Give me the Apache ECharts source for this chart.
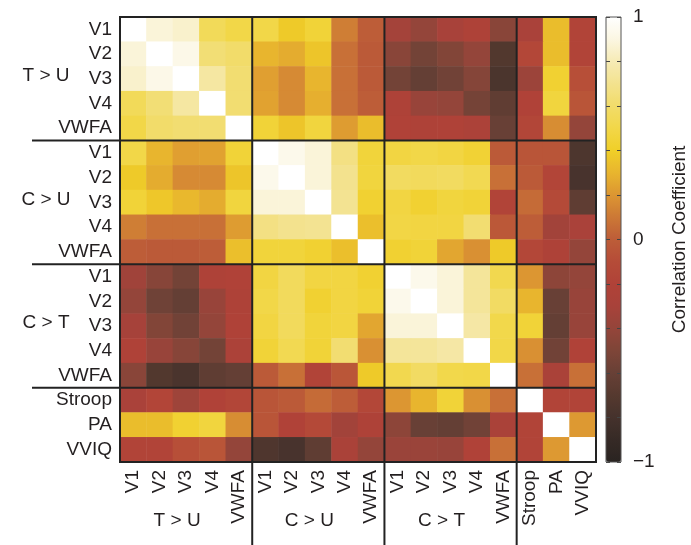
<!DOCTYPE html>
<html><head><meta charset="utf-8">
<script src="https://cdn.jsdelivr.net/npm/echarts@6/dist/echarts.min.js"></script>
<style>html,body{margin:0;padding:0;background:#fff}#c{width:691px;height:545px}</style>
</head><body><div id="c"></div>
<script>
// ---- data ----
const labels = ['V1','V2','V3','V4','VWFA','V1','V2','V3','V4','VWFA','V1','V2','V3','V4','VWFA','Stroop','PA','VVIQ'];
const groupNames = ['T > U','C > U','C > T'];
const groupStart = [0, 5, 10];
const groupSize = 5;
const colorbarLabels = [-1, 0, 1];

const rTU_V1   = [1, 0.88, 0.85, 0.55, 0.5, 0.5, 0.38, 0.45, 0.12, 0.0, -0.32, -0.4, -0.3, -0.22, -0.45, -0.28, 0.33, -0.18];
const rTU_V2   = [0.88, 1, 0.92, 0.63, 0.6, 0.3, 0.27, 0.36, 0.07, -0.02, -0.45, -0.55, -0.48, -0.4, -0.72, -0.15, 0.33, -0.18];
const rTU_V3   = [0.85, 0.92, 1, 0.75, 0.62, 0.23, 0.16, 0.3, 0.07, -0.02, -0.55, -0.62, -0.56, -0.47, -0.76, -0.36, 0.43, -0.08];
const rTU_V4   = [0.55, 0.63, 0.75, 1, 0.62, 0.24, 0.16, 0.28, 0.07, 0.0, -0.22, -0.38, -0.4, -0.54, -0.64, -0.2, 0.47, -0.05];
const rTU_VWFA = [0.5, 0.6, 0.62, 0.62, 1, 0.45, 0.36, 0.47, 0.22, 0.33, -0.2, -0.22, -0.21, -0.25, -0.6, -0.16, 0.17, -0.4];
const rCU_V1   = [0.5, 0.3, 0.23, 0.24, 0.45, 1, 0.93, 0.88, 0.67, 0.46, 0.48, 0.5, 0.48, 0.44, -0.02, -0.05, -0.05, -0.75];
const rCU_V2   = [0.38, 0.27, 0.16, 0.16, 0.36, 0.93, 1, 0.88, 0.7, 0.47, 0.57, 0.56, 0.57, 0.53, 0.07, -0.02, -0.17, -0.78];
const rCU_V3   = [0.45, 0.37, 0.31, 0.27, 0.47, 0.88, 0.88, 1, 0.71, 0.43, 0.48, 0.43, 0.47, 0.45, -0.18, 0.05, -0.12, -0.65];
const rCU_V4   = [0.12, 0.07, 0.07, 0.07, 0.22, 0.67, 0.7, 0.71, 1, 0.34, 0.49, 0.48, 0.48, 0.62, -0.03, 0.0, -0.33, -0.28];
const rCU_VWFA = [0.0, -0.02, -0.02, 0.0, 0.34, 0.46, 0.46, 0.43, 0.34, 1, 0.43, 0.45, 0.25, 0.18, 0.38, -0.15, -0.22, -0.4];
const rCT_V1   = [-0.34, -0.46, -0.55, -0.22, -0.2, 0.48, 0.56, 0.48, 0.48, 0.43, 1, 0.93, 0.88, 0.73, 0.52, 0.2, -0.43, -0.4];
const rCT_V2   = [-0.4, -0.57, -0.62, -0.38, -0.22, 0.5, 0.56, 0.43, 0.48, 0.45, 0.93, 1, 0.88, 0.73, 0.58, 0.3, -0.6, -0.38];
const rCT_V3   = [-0.31, -0.48, -0.56, -0.4, -0.21, 0.48, 0.56, 0.46, 0.48, 0.25, 0.88, 0.88, 1, 0.76, 0.51, 0.45, -0.62, -0.38];
const rCT_V4   = [-0.21, -0.38, -0.46, -0.55, -0.25, 0.45, 0.53, 0.45, 0.62, 0.18, 0.73, 0.73, 0.76, 1, 0.5, 0.18, -0.56, -0.2];
const rCT_VWFA = [-0.45, -0.72, -0.77, -0.65, -0.62, -0.02, 0.07, -0.18, -0.04, 0.38, 0.52, 0.58, 0.51, 0.5, 1, 0.07, -0.27, 0.07];
const rStroop  = [-0.28, -0.17, -0.35, -0.2, -0.16, -0.05, -0.02, 0.05, 0.0, -0.15, 0.2, 0.3, 0.45, 0.18, 0.07, 1, -0.18, -0.18];
const rPA      = [0.33, 0.33, 0.43, 0.47, 0.17, -0.05, -0.2, -0.13, -0.33, -0.22, -0.43, -0.6, -0.62, -0.56, -0.27, -0.18, 1, 0.21];
const rVVIQ    = [-0.18, -0.18, -0.08, -0.05, -0.4, -0.74, -0.78, -0.65, -0.27, -0.4, -0.37, -0.37, -0.38, -0.2, 0.07, -0.18, 0.21, 1];

const rows = [rTU_V1, rTU_V2, rTU_V3, rTU_V4, rTU_VWFA, rCU_V1, rCU_V2, rCU_V3, rCU_V4, rCU_VWFA,
              rCT_V1, rCT_V2, rCT_V3, rCT_V4, rCT_VWFA, rStroop, rPA, rVVIQ];

// colormap stops from -1 to 1 in steps of 0.1
const cmap = ['#2a2421','#362a26','#45322c','#55392f','#684036','#7e4538','#94453a','#a8423a','#b04238','#b54c38',
              '#bd5d38','#cc7836','#dc9632','#e8b52e','#f0cf28','#f2d748','#f2dc6a','#f3e28e','#f6ebb5','#fbf6e2','#ffffff'];

// ---- chart ----
const FONT = '"Liberation Sans", Arial, Helvetica, sans-serif';
const TXT = '#231f20';
const FS = 19;
const data = [];
rows.forEach((r, i) => r.forEach((v, j) => data.push([j, i, v])));

const chart = echarts.init(document.getElementById('c'), null, {renderer: 'canvas'});
const tickStyle = {show: true, inside: true, length: 4, alignWithLabel: true, lineStyle: {color: '#444', width: 1}};
chart.setOption({
  animation: false,
  textStyle: {fontFamily: FONT, color: TXT},
  grid: [
    {left: 120, top: 17, width: 476, height: 445, show: true, borderColor: '#222', borderWidth: 2, z: 5, backgroundColor: 'transparent'},
    {left: 606, top: 17, width: 15, height: 445, show: false}
  ],
  xAxis: [
    {type: 'category', gridIndex: 0, position: 'bottom', data: labels,
     axisLine: {show: false}, axisTick: tickStyle, splitLine: {show: false},
     axisLabel: {rotate: 90, fontSize: FS, color: TXT, fontFamily: FONT, margin: 8, interval: 0}},
    {type: 'category', gridIndex: 0, position: 'top', data: labels,
     axisLine: {show: false}, axisTick: tickStyle, axisLabel: {show: false}},
    {type: 'category', gridIndex: 1, data: ['c'], show: false}
  ],
  yAxis: [
    {type: 'category', gridIndex: 0, position: 'left', inverse: true, data: labels,
     axisLine: {show: false}, axisTick: tickStyle, splitLine: {show: false},
     axisLabel: {fontSize: FS, color: TXT, fontFamily: FONT, margin: 8, interval: 0}},
    {type: 'category', gridIndex: 0, position: 'right', inverse: true, data: labels,
     axisLine: {show: false}, axisTick: tickStyle, axisLabel: {show: false}},
    {type: 'value', gridIndex: 1, position: 'right', min: -1, max: 1, interval: 0.2,
     axisLine: {show: false}, splitLine: {show: false},
     axisTick: {show: true, inside: true, length: 4, lineStyle: {color: '#444'}},
     axisLabel: {fontSize: FS, color: TXT, fontFamily: FONT, margin: 12,
       formatter: v => { const r = Math.round(v * 10) / 10; return colorbarLabels.includes(r) ? (r < 0 ? '\u2212' + Math.abs(r) : String(r)) : ''; }},
     name: 'Correlation Coefficient', nameLocation: 'middle', nameRotate: 90, nameGap: 49,
     nameTextStyle: {fontSize: FS, color: TXT, fontFamily: FONT}, z: 10},
    {type: 'value', gridIndex: 1, position: 'left', min: -1, max: 1, interval: 0.2,
     axisLine: {show: false}, splitLine: {show: false}, axisLabel: {show: false},
     axisTick: {show: true, inside: true, length: 4, lineStyle: {color: '#444'}}, z: 10}
  ],
  visualMap: {
    type: 'continuous', min: -1, max: 1, seriesIndex: 0, calculable: false, show: true,
    left: 606, top: 17, itemWidth: 15, itemHeight: 445, padding: 0, text: null,
    inRange: {color: cmap}, hoverLink: false, borderColor: '#555', borderWidth: 0
  },
  series: [{
    type: 'heatmap', xAxisIndex: 0, yAxisIndex: 0, data: data,
    itemStyle: {borderWidth: 0}, emphasis: {disabled: true}, progressive: 0
  }]
});

// separators and group labels placed via the chart's own coordinate conversion
const px = i => chart.convertToPixel({xAxisIndex: 0}, i);
const py = i => chart.convertToPixel({yAxisIndex: 0}, i);
const gridRect = chart.getModel().getComponent('grid', 0).coordinateSystem.getRect();
const cbRect = chart.getModel().getComponent('grid', 1).coordinateSystem.getRect();
const graphics = [];
groupStart.slice(1).concat([15]).forEach(b => {
  const y = (py(b - 1) + py(b)) / 2;
  const x = (px(b - 1) + px(b)) / 2;
  graphics.push({type: 'line', shape: {x1: 32, y1: y, x2: gridRect.x + gridRect.width, y2: y}, style: {stroke: '#222', lineWidth: 2}, z: 20});
  graphics.push({type: 'line', shape: {x1: x, y1: gridRect.y, x2: x, y2: 545}, style: {stroke: '#222', lineWidth: 2}, z: 20});
});
groupNames.forEach((g, k) => {
  const s = groupStart[k];
  const yc = (py(s) + py(s + groupSize - 1)) / 2 - 3;
  graphics.push({type: 'text', x: 46, y: yc, style: {text: g, font: FS + 'px ' + FONT, fill: TXT, align: 'center', verticalAlign: 'middle'}, z: 20});
  const xc = px(s + 2) - 9;
  graphics.push({type: 'text', x: xc, y: 521, style: {text: g, font: FS + 'px ' + FONT, fill: TXT, align: 'center', verticalAlign: 'middle'}, z: 20});
});
graphics.push({type: 'rect', shape: {x: cbRect.x, y: cbRect.y, width: cbRect.width, height: cbRect.height},
  style: {fill: 'none', stroke: '#555', lineWidth: 1}, z: 20});
chart.setOption({graphic: graphics});
</script>
</body></html>
